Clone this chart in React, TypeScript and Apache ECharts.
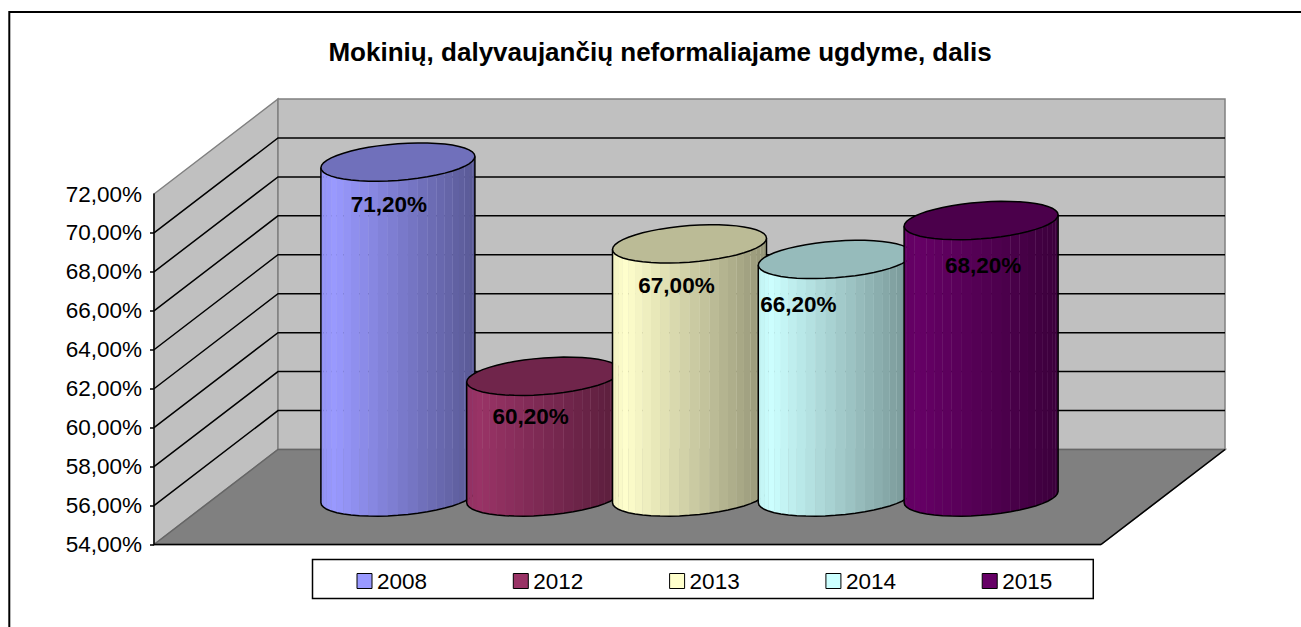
import React, { useEffect, useRef } from "react";
import * as echarts from "echarts";

const years = ["2008", "2012", "2013", "2014", "2015"];
const values = [71.2, 60.2, 67.0, 66.2, 68.2];
const baseColors = ["#9999FF", "#993366", "#FFFFCC", "#CCFFFF", "#660066"];
const title = "Mokinių, dalyvaujančių neformaliajame ugdyme, dalis";
const axisMin = 54;
const axisMax = 72;
const axisStep = 2;
const font = "Liberation Sans";

// projection of the 3D box, in pixels
const depthX = 124;
const depthY = -95;
const radiusX = 77;
const radiusY = 18.3;
const skew = 5.7;
const xSpan = 3.2476;
const xMin = 2 - xSpan;
const xMax = 2 + xSpan;
// hand-placed data label nudges, relative to the top of each cylinder
const labelDx = [-9, -13, -13, -37, 2];
const labelDy = [42, 40, 42, 45, 45];

const fmt = (v: number) => v.toFixed(2).replace(".", ",") + "%";

function shade(hex: string, f: number) {
  const n = parseInt(hex.slice(1), 16);
  const c = [(n >> 16) & 255, (n >> 8) & 255, n & 255].map((v) => Math.round(v * f));
  return `rgb(${c[0]},${c[1]},${c[2]})`;
}

function wallsItem(_p: any, api: any) {
  const lb = api.coord([xMin, axisMin]);
  const lt = api.coord([xMin, axisMax]);
  const rb = api.coord([xMax, axisMin]);
  const gray = "#808080";
  const children: any[] = [
    { type: "polygon", shape: { points: [[lt[0], lt[1]], [lt[0] + depthX, lt[1] + depthY], [lb[0] + depthX, lb[1] + depthY], [lb[0], lb[1]]] }, style: { fill: "#C0C0C0", stroke: gray, lineWidth: 1.5 } },
    { type: "polygon", shape: { points: [[lt[0] + depthX, lt[1] + depthY], [rb[0] + depthX, lt[1] + depthY], [rb[0] + depthX, lb[1] + depthY], [lb[0] + depthX, lb[1] + depthY]] }, style: { fill: "#C0C0C0", stroke: gray, lineWidth: 1.5 } },
    { type: "polygon", shape: { points: [[lb[0], lb[1]], [lb[0] + depthX, lb[1] + depthY], [rb[0] + depthX, rb[1] + depthY], [rb[0], rb[1]]] }, style: { fill: gray, stroke: "#666", lineWidth: 1.5 } },
    { type: "line", shape: { x1: lb[0], y1: lb[1], x2: rb[0], y2: rb[1] }, style: { stroke: "#000", lineWidth: 1.5 } },
    { type: "line", shape: { x1: rb[0], y1: rb[1], x2: rb[0] + depthX, y2: rb[1] + depthY }, style: { stroke: "#000", lineWidth: 1.5 } },
  ];
  for (let v = axisMin + axisStep; v < axisMax; v += axisStep) {
    const p = api.coord([xMin, v]);
    children.push({ type: "polyline", shape: { points: [[p[0], p[1]], [p[0] + depthX, p[1] + depthY], [rb[0] + depthX, p[1] + depthY]] }, style: { fill: "none", stroke: "#000", lineWidth: 1.5 } });
  }
  return { type: "group", children };
}

function cylinderItem(idx: number) {
  return (_p: any, api: any) => {
    const top = api.coord([api.value(0), api.value(1)]);
    const base = api.coord([api.value(0), axisMin]);
    const cx = top[0] + depthX / 2;
    const yTop = top[1] + depthY / 2;
    const yBase = base[1] + depthY / 2;
    const color = baseColors[idx];
    const pt = (t: number, cy: number) => [
      cx + radiusX * Math.cos(t),
      cy + radiusY * Math.sin(t) - skew * Math.cos(t),
    ];
    const children: any[] = [];
    const facets = 24;
    const bottomArc: number[][] = [pt(Math.PI, yTop)];
    for (let k = 0; k <= facets; k++) bottomArc.push(pt(Math.PI - (k / facets) * Math.PI, yBase));
    bottomArc.push(pt(0, yTop));
    // soft underlay, so that the seams between facets stay faint
    children.push({ type: "polygon", shape: { points: bottomArc }, style: { fill: color, opacity: 0.55, stroke: "none" } });
    for (let k = 0; k < facets; k++) {
      const t0 = Math.PI - (k / facets) * Math.PI;
      const t1 = Math.PI - ((k + 1) / facets) * Math.PI;
      const xfrac = (Math.cos(t0) + Math.cos(t1)) / 4 + 0.5;
      const f = xfrac < 0.08 ? 0.95 + xfrac * 0.6 : 1 - ((xfrac - 0.08) / 0.92) * 0.42;
      children.push({
        type: "polygon",
        shape: { points: [pt(t0, yTop), pt(t1, yTop), pt(t1, yBase), pt(t0, yBase)] },
        style: { fill: shade(color, f), stroke: "none" },
      });
    }
    children.push({ type: "polyline", shape: { points: bottomArc }, style: { fill: "none", stroke: "#000", lineWidth: 1.5 } });
    const cap: number[][] = [];
    for (let k = 0; k < facets * 2; k++) cap.push(pt((k / facets) * Math.PI, yTop));
    children.push({ type: "polygon", shape: { points: cap }, style: { fill: shade(color, 0.735), stroke: "#000", lineWidth: 1.5 } });
    children.push({
      type: "text",
      style: {
        x: cx + labelDx[idx],
        y: yTop + labelDy[idx],
        text: fmt(api.value(1)),
        fill: "#000",
        font: `bold 22.5px "${font}"`,
        align: "center",
        verticalAlign: "middle",
      },
    });
    return { type: "group", children };
  };
}

export default function App() {
  const ref = useRef<HTMLDivElement>(null);
  useEffect(() => {
    const chart = echarts.init(ref.current!, null, { renderer: "svg" });
    const ticks: number[] = [];
    for (let v = axisMin; v < axisMax; v += axisStep) ticks.push(v);
    chart.setOption({
      animation: false,
      backgroundColor: "#fff",
      title: {
        text: title,
        left: 655,
        top: 34,
        textAlign: "center",
        textStyle: { fontFamily: font, fontSize: 26, fontWeight: "bold", color: "#000" },
      },
      graphic: [
        { type: "rect", z: -1, shape: { x: 9.3, y: 12, width: 1400, height: 700 }, style: { fill: "#fff", stroke: "#000", lineWidth: 2 } },
      ],
      grid: { left: 154, top: 194, width: 947, height: 350.5 },
      xAxis: { type: "value", min: xMin, max: xMax, show: false },
      yAxis: {
        type: "value",
        min: axisMin,
        max: axisMax,
        interval: axisStep,
        splitLine: { show: false },
        axisLine: { show: true, onZero: false, lineStyle: { color: "#000", width: 1.5 } },
        axisTick: { show: true, length: 4, customValues: ticks, lineStyle: { color: "#000", width: 1.5 } },
        axisLabel: { formatter: (v: number) => fmt(v), color: "#000", fontFamily: font, fontSize: 22.5, margin: 12 },
        z: 5,
      },
      legend: {
        data: years,
        left: 312.5,
        top: 559.5,
        orient: "horizontal",
        padding: [10, 41, 6, 44],
        itemWidth: 15,
        itemHeight: 15,
        itemGap: 85.75,
        icon: "rect",
        backgroundColor: "#fff",
        borderColor: "#000",
        borderWidth: 1.5,
        borderRadius: 0,
        itemStyle: { borderColor: "#000", borderWidth: 1 },
        textStyle: { color: "#000", fontFamily: font, fontSize: 22.5 },
        selectedMode: false,
      },
      series: [
        { name: "walls", type: "custom", coordinateSystem: "cartesian2d", clip: false, z: 1, renderItem: wallsItem, data: [[0, axisMin]], silent: true },
        ...years.map((y, i) => ({
          name: y,
          type: "custom",
          coordinateSystem: "cartesian2d",
          clip: false,
          z: 2 + i,
          itemStyle: { color: baseColors[i] },
          renderItem: cylinderItem(i),
          encode: { x: 0, y: 1 },
          data: [[i, values[i]]],
        })),
      ],
    });
    return () => chart.dispose();
  }, []);
  return <div ref={ref} style={{ position: "fixed", left: 0, top: 0, width: 1301, height: 627 }} />;
}
